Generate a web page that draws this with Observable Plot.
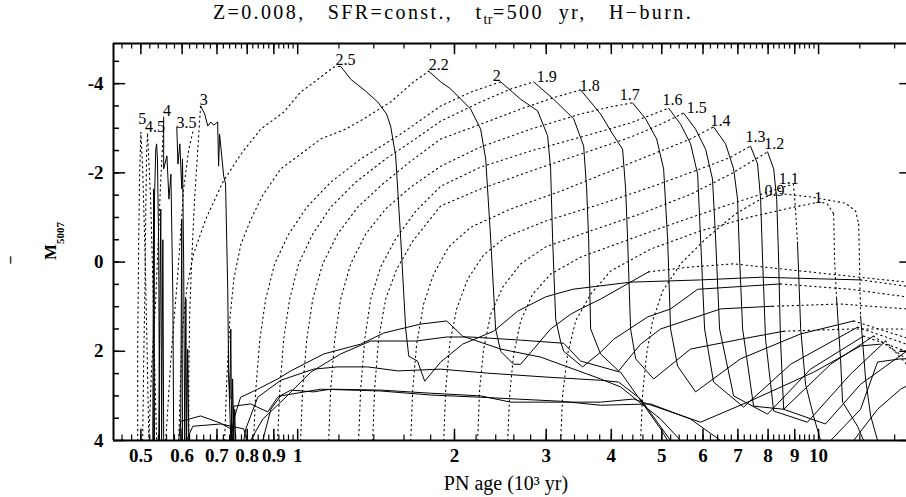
<!DOCTYPE html>
<html><head><meta charset="utf-8">
<script src="https://cdn.jsdelivr.net/npm/d3@7"></script>
<script src="https://cdn.jsdelivr.net/npm/@observablehq/plot@0.6"></script>
<style>
body{margin:0;background:#fff;}
#title{height:24px;width:906px;text-align:center;font-family:"Liberation Serif","DejaVu Serif",serif;font-size:20px;letter-spacing:2.4px;line-height:24px;white-space:pre;overflow:visible;color:#000;}
#title sub{font-size:14px;vertical-align:-5px;line-height:0;letter-spacing:0.5px;}
</style></head><body>
<div id="title">Z=0.008,   SFR=const.,   t<sub>tr</sub>=500  yr,   H−burn.</div>
<div id="chart"></div>
<script>
// ---------- data: [age (10^3 yr), M5007] ----------
const rise_5 = [[0.493,4],[0.493,1.95],[0.495,-0.29],[0.497,-1.86],[0.500,-2.91]];
const down_5 = [[0.500,-2.91],[0.504,-2.09],[0.509,-0.29],[0.513,1.50],[0.518,4]];
const spike_5 = [[0.527,4],[0.529,-1.64],[0.531,4]];
const rise_45 = [[0.504,4],[0.506,2.40],[0.509,0.61],[0.511,-1.19],[0.513,-2.53],[0.515,-2.87]];
const down_45 = [[0.515,-2.87],[0.522,-1.41],[0.527,0.38],[0.531,2.17],[0.536,4]];
const spike_45 = [[0.529,4],[0.531,-1.41],[0.534,-2.53],[0.536,-2.65],[0.538,-2.31],[0.541,-0.29],[0.543,4]];
const rise_4 = [[0.518,4],[0.524,2.40],[0.534,0.83],[0.541,-0.74],[0.546,-1.86],[0.551,-2.76],[0.553,-3.21]];
const drop_4 = [[0.553,-3.25],[0.553,-2.09],[0.561,-2.38],[0.566,-1.41],[0.571,-1.97],[0.576,0.83],[0.578,4]];
const spike_4 = [[0.541,4],[0.546,-1.19],[0.548,4],[0.551,-0.50],[0.553,4]];
const rise_35 = [[0.558,4],[0.571,2.17],[0.589,0.22],[0.604,-1.64],[0.618,-2.53],[0.631,-2.98]];
const drop_35 = [[0.586,-3.03],[0.589,-2.20],[0.594,-2.65],[0.599,-1.64],[0.601,-2.31],[0.604,-0.07],[0.607,4]];
const spike_35 = [[0.596,4],[0.599,-0.96],[0.601,4],[0.607,4],[0.610,0.83],[0.612,4],[0.615,1.95],[0.618,4]];
const rise_3 = [[0.618,4],[0.618,2.62],[0.620,1.28],[0.626,-0.07],[0.634,-1.41],[0.643,-2.53],[0.651,-3.50]];
const drop_3 = [[0.651,-3.50],[0.663,-3.32],[0.672,-3.05],[0.681,-3.14],[0.690,-3.07],[0.702,-3.14],[0.705,-2.15],[0.708,-2.87],[0.721,-1.93],[0.727,-1.75],[0.734,0.61],[0.737,2.47],[0.744,4]];
const spike_3 = [[0.737,2.47],[0.741,3.07],[0.744,1.50],[0.747,4],[0.750,2.62],[0.754,4],[0.757,3.30],[0.760,4]];

const rise_25 = [[0.591,4],[0.596,2.62],[0.601,1.50],[0.612,0.61],[0.631,-0.18],[0.666,-0.96],[0.718,-1.79],[0.778,-2.42],[0.849,-2.98],[0.940,-3.36],[1.013,-3.81],[1.083,-4.06],[1.172,-4.37],[1.209,-4.39]];
const drop_25 = [[1.209,-4.39],[1.264,-4.10],[1.351,-3.83],[1.424,-3.59],[1.481,-3.32],[1.508,-3.05],[1.542,-2.38],[1.577,-0.52],[1.612,1.50],[1.634,2.11],[1.699,2.22],[1.753,2.67],[1.882,2.24],[2.073,1.84],[2.378,1.55],[2.645,1.10],[2.992,0.78],[3.372,0.61],[4.356,0.45],[5.936,0.40],[7.74,0.34],[12.04,0.40]];
const tail_25 = [[12.04,0.40],[14.75,0.54]];

const rise_22 = [[0.724,4],[0.731,2.62],[0.741,1.28],[0.754,0.38],[0.778,-0.40],[0.813,-0.96],[0.857,-1.50],[0.928,-2.09],[1.013,-2.42],[1.107,-2.76],[1.236,-2.98],[1.339,-3.21],[1.508,-3.59],[1.670,-4.04],[1.784,-4.28]];
const drop_22 = [[1.784,-4.28],[1.882,-4.04],[1.967,-3.88],[2.148,-3.43],[2.245,-2.98],[2.296,-2.31],[2.347,-0.52],[2.399,1.50],[2.453,2.00],[2.598,2.29],[2.680,2.29],[3.059,1.50],[3.342,1.17],[3.493,1.05],[3.815,0.83],[4.717,0.22]];
const tail_22 = [[4.717,0.22],[5.679,0.11],[6.869,0.04],[9.24,0.20],[14.75,0.45]];

const rise_20 = [[0.823,4],[0.831,2.85],[0.846,1.73],[0.868,0.83],[0.903,0.04],[0.961,-0.63],[1.041,-1.23],[1.157,-1.79],[1.321,-2.31],[1.577,-2.87],[1.882,-3.50],[2.148,-3.81],[2.453,-4.04]];
const drop_20 = [[2.453,-4.04],[2.680,-3.65],[2.888,-3.39],[3.019,-2.83],[3.059,-2.09],[3.086,-0.52],[3.128,1.28],[3.198,1.79],[3.241,2.00],[3.524,2.35],[3.815,2.02],[4.042,1.73],[4.697,1.23],[5.199,1.05],[5.859,0.61],[8.45,0.49]];
const tail_20 = [[8.45,0.49],[11.52,0.61],[14.75,0.78]];

const rise_19 = [[0.915,4],[0.924,2.85],[0.940,1.73],[0.965,0.83],[1.004,0.04],[1.069,-0.63],[1.157,-1.23],[1.292,-1.79],[1.475,-2.31],[1.648,-2.69],[1.882,-3.16],[2.245,-3.59],[2.564,-3.88],[2.838,-4.04]];
const drop_19 = [[2.838,-4.04],[3.100,-3.65],[3.388,-3.21],[3.540,-2.60],[3.587,-1.64],[3.619,-0.52],[3.651,1.50],[3.815,2.06],[4.132,2.44],[4.553,1.84],[4.974,1.50],[6.484,1.05],[8.16,0.99]];
const tail_19 = [[8.16,0.99],[11.02,0.94],[14.75,1.05]];

const rise_18 = [[1.013,4],[1.022,2.85],[1.041,1.73],[1.069,0.83],[1.117,0.04],[1.193,-0.63],[1.304,-1.23],[1.456,-1.75],[1.648,-2.26],[1.882,-2.76],[2.245,-3.09],[2.680,-3.43],[3.128,-3.70],[3.493,-3.86]];
const drop_18 = [[3.493,-3.86],[3.815,-3.32],[4.024,-2.87],[4.205,-2.53],[4.262,-1.64],[4.299,-0.52],[4.356,1.50],[4.455,2.17],[4.824,2.62],[5.679,1.95],[7.08,1.73],[8.57,1.55]];
const tail_18 = [[8.57,1.55],[11.52,1.50],[14.75,1.50]];

const rise_17 = [[1.147,4],[1.157,2.85],[1.178,1.73],[1.209,0.83],[1.264,0.04],[1.351,-0.63],[1.475,-1.19],[1.648,-1.68],[1.882,-2.15],[2.245,-2.58],[2.801,-2.98],[3.493,-3.32],[3.988,-3.48],[4.395,-3.57]];
const drop_17 = [[4.395,-3.57],[4.656,-3.21],[4.888,-2.76],[5.041,-2.09],[5.131,-0.52],[5.199,1.50],[5.362,2.33],[5.806,2.91],[7.08,2.17],[9.24,1.61],[11.68,1.32]];
const tail_17 = [[11.68,1.32],[14.75,1.70]];

const rise_16 = [[1.309,4],[1.321,2.85],[1.345,1.73],[1.381,0.83],[1.443,0.11],[1.542,-0.52],[1.685,-1.14],[1.882,-1.70],[2.245,-2.13],[2.801,-2.49],[3.493,-2.80],[4.356,-3.12],[5.153,-3.45]];
const drop_16 = [[5.153,-3.45],[5.434,-3.09],[5.679,-2.65],[5.859,-1.97],[5.936,-0.52],[6.042,1.50],[6.287,2.69],[7.178,3.25],[8.84,2.29],[11.88,1.46]];
const tail_16 = [[11.88,1.46],[14.75,1.84]];

const rise_15 = [[1.393,4],[1.405,2.85],[1.430,1.73],[1.475,0.83],[1.549,0.16],[1.663,-0.47],[1.882,-1.26],[2.245,-1.64],[2.801,-2.04],[3.493,-2.42],[4.356,-2.80],[4.974,-3.09],[5.507,-3.34]];
const drop_15 = [[5.507,-3.34],[5.806,-2.98],[6.069,-2.53],[6.257,-1.86],[6.344,-0.52],[6.456,1.50],[6.869,3.00],[7.98,3.41],[9.65,2.40],[12.20,1.66]];
const tail_15 = [[12.20,1.66],[14.75,2.00]];

const rise_14 = [[1.648,4],[1.663,2.85],[1.692,1.84],[1.745,0.94],[1.824,0.27],[1.949,-0.34],[2.148,-0.78],[2.564,-1.19],[3.198,-1.59],[3.988,-2.04],[4.974,-2.49],[5.679,-2.76],[6.287,-3.03]];
const drop_14 = [[6.287,-3.03],[6.630,-2.65],[6.869,-2.09],[6.99,-1.41],[7.054,-0.07],[7.148,1.50],[7.503,3.23],[8.57,3.30],[10.55,2.29],[12.75,1.66]];
const tail_14 = [[12.75,1.66],[14.75,2.17]];

const rise_13 = [[1.907,4],[1.924,2.85],[1.958,1.84],[2.019,1.05],[2.120,0.38],[2.275,-0.16],[2.507,-0.56],[2.992,-0.92],[3.815,-1.30],[4.759,-1.68],[5.936,-2.09],[6.776,-2.35],[7.40,-2.60]];
const drop_13 = [[7.40,-2.60],[7.637,-2.20],[7.74,-1.41],[7.807,-0.07],[7.91,1.73],[8.20,3.34],[9.52,3.59],[11.52,2.51],[13.45,1.77]];
const tail_13 = [[13.45,1.77],[14.75,2.29]];

const rise_12 = [[2.216,4],[2.235,2.85],[2.275,1.95],[2.347,1.17],[2.475,0.56],[2.680,0.04],[2.992,-0.34],[3.651,-0.70],[4.553,-1.08],[5.679,-1.52],[6.776,-1.97],[7.98,-2.47]];
const drop_12 = [[7.98,-2.47],[8.20,-2.09],[8.31,-1.41],[8.38,-0.07],[8.45,1.73],[8.57,3.30],[10.31,3.63],[12.04,2.74],[14.75,2.00]];

const rise_11 = [[2.530,4],[2.553,2.96],[2.598,2.06],[2.680,1.32],[2.825,0.72],[3.059,0.27],[3.493,-0.11],[4.356,-0.52],[5.434,-0.92],[6.776,-1.30],[8.09,-1.59],[8.95,-1.75]];
const fall_11 = [[8.95,-1.75],[9.03,-1.19],[9.11,-0.45]];
const drop_11 = [[9.11,-0.45],[9.24,1.50],[9.44,2.74],[9.78,3.45],[10.09,4]];

const rise_10 = [[3.198,4],[3.227,2.96],[3.298,2.06],[3.417,1.32],[3.651,0.72],[3.988,0.20],[4.759,-0.29],[5.936,-0.70],[7.40,-1.01],[8.95,-1.23],[10.09,-1.35],[10.40,-1.30],[10.69,-1.08]];
const fall_10 = [[10.69,-1.08],[10.73,-0.07],[10.83,0.83]];
const drop_10 = [[10.83,0.83],[11.02,2.17],[11.12,3.14],[11.88,3.68],[12.20,4]];

const rise_09 = [[4.553,4],[4.594,2.96],[4.676,2.06],[4.801,1.32],[5.019,0.65],[5.434,0.04],[6.069,-0.52],[6.929,-1.08],[7.74,-1.41],[8.23,-1.55],[9.65,-1.46],[11.27,-1.32],[11.78,-1.14],[11.94,-0.85]];
const fall_09 = [[11.94,-0.85],[11.99,0.16],[12.04,1.21]];
const drop_09 = [[12.04,1.21],[12.31,2.62],[12.59,3.45],[12.98,4]];

// late branches of the massive tracks
const lowA = [[0.744,4],[0.754,3.52],[0.777,3.03],[0.838,2.85],[0.915,2.62],[0.970,2.44],[1.122,2.06],[1.321,1.84],[1.463,1.59],[1.722,1.39],[1.932,1.32],[2.073,1.66],[2.453,1.95],[2.927,2.13],[3.815,2.62],[4.169,2.80],[4.974,3.52],[5.434,4]];
const lowB = [[0.788,4],[0.795,3.74],[0.838,3.03],[0.928,2.65],[1.073,2.40],[1.193,2.35],[1.363,2.35],[1.556,2.44],[1.882,2.40],[2.317,2.49],[3.019,2.58],[3.815,2.65],[4.132,2.69],[4.553,3.07],[5.199,4]];
const lowC = [[0.750,4],[0.754,3.23],[0.812,3.18],[0.876,3.36],[0.915,3.03],[0.970,2.87],[1.073,2.91],[1.157,2.85],[1.443,2.87],[1.800,2.94],[2.245,3.00],[2.564,3.14],[3.815,3.14],[4.415,3.07],[5.936,3.59],[7.306,3.14],[9.78,2.47],[12.04,1.88],[13.15,1.84]];
const lowD = [[0.812,4],[0.857,3.52],[0.928,3.14],[1.059,2.47],[1.209,2.06],[1.381,1.77],[1.685,1.77],[1.932,1.68],[2.148,1.68],[2.680,1.75],[3.241,1.82],[3.493,2.22],[4.169,2.47],[4.974,3.74],[5.131,4]];
const lowE = [[0.857,4],[0.888,3.30],[0.928,3.00],[1.107,2.85],[1.443,2.89],[1.800,2.98],[2.245,3.03],[3.198,3.12],[3.815,3.21],[4.759,3.18],[5.679,3.52],[6.484,4]];
const lowF = [[0.591,4],[0.596,3.57],[0.651,3.45],[0.711,3.61],[0.744,3.74],[0.750,4]];
const lowG = [[0.612,4],[0.629,3.68],[0.711,3.63],[0.788,3.74],[0.798,4]];
const lateH = [[10.55,4],[12.04,3.30],[12.98,2.24],[14.37,2.17],[14.75,2.17]];
const lateI = [[11.68,4],[12.98,3.30],[14.37,2.85],[14.75,2.78]];

// mass labels
const labelText = ["5","4.5","4","3.5","3","2.5","2.2","2","1.9","1.8","1.7","1.6","1.5","1.4","1.3","1.2","1.1","0.9","1"];
const labelAge = [0.503,0.532,0.561,0.612,0.660,1.236,1.865,2.410,3.006,3.635,4.338,5.245,5.833,6.484,7.57,8.22,8.76,8.23,9.99];
const labelMag = [-3.22,-3.03,-3.38,-3.12,-3.63,-4.53,-4.42,-4.17,-4.15,-3.95,-3.74,-3.63,-3.45,-3.16,-2.80,-2.66,-1.86,-1.59,-1.43];

// axes
const xTickValues = [0.5,0.6,0.7,0.8,0.9,1,2,3,4,5,6,7,8,9,10];
const yTickValues = [-4,-2,0,2,4];
const xDomain = [0.443, 14.75];
const yDomain = [4, -4.9];

// ---------- build ----------
const dottedSegs = [rise_5, down_5, rise_45, down_45, rise_4, rise_35, rise_3, rise_25, tail_25, rise_22, tail_22,
  rise_20, tail_20, rise_19, tail_19, rise_18, tail_18, rise_17, tail_17, rise_16, tail_16, rise_15, tail_15,
  rise_14, tail_14, rise_13, tail_13, rise_12, rise_11, fall_11, rise_10, fall_10, rise_09, fall_09];
const solidSegs = [spike_5, spike_45, drop_4, spike_4, drop_35, spike_35, drop_3, spike_3, drop_25, drop_22, drop_20, drop_19,
  drop_18, drop_17, drop_16, drop_15, drop_14, drop_13, drop_12, drop_11, drop_10, drop_09,
  lowA, lowB, lowC, lowD, lowE, lowF, lowG, lateH, lateI];
const toRows = segs => segs.flatMap((s, i) => s.map(([age, mag]) => ({id: i, age, mag})));
const dottedRows = toRows(dottedSegs);
const solidRows = toRows(solidSegs);
const labels = labelText.map((t, i) => ({t, age: labelAge[i], mag: labelMag[i]}));

const xMinor = [...d3.range(0.44, 0.999, 0.02), ...d3.range(1.2, 9.99, 0.2), 12, 14].filter(v => v >= xDomain[0] && v <= xDomain[1]);
const yMinor = d3.range(-4.5, 4, 0.5);
const serif = "Liberation Serif, DejaVu Serif, serif";
const xL = xDomain[0], xR = xDomain[1];

const chart = Plot.plot({
  width: 906, height: 473,
  marginLeft: 113, marginRight: 0, marginTop: 19, marginBottom: 57,
  x: {type: "log", domain: xDomain, axis: null},
  y: {domain: yDomain, axis: null},
  style: {fontFamily: serif, background: "white", color: "black"},
  marks: [
    Plot.line(dottedRows, {x: "age", y: "mag", z: "id", stroke: "black", strokeWidth: 1.1, strokeDasharray: "1.3,3.6", clip: true}),
    Plot.line(solidRows, {x: "age", y: "mag", z: "id", stroke: "black", strokeWidth: 1, clip: true}),
    Plot.text(labels, {x: "age", y: "mag", text: "t", fontSize: 16, fill: "black", fontFamily: serif}),
    // frame
    Plot.ruleY([yDomain[1]], {stroke: "black", strokeWidth: 2}),
    Plot.ruleY([yDomain[0]], {stroke: "black", strokeWidth: 2}),
    Plot.ruleX([xL], {stroke: "black", strokeWidth: 2}),
    // ticks
    Plot.ruleX(xMinor, {y1: 4, y2: 4 - 0.125, stroke: "black", strokeWidth: 1.2}),
    Plot.ruleX(xTickValues, {y1: 4, y2: 4 - 0.25, stroke: "black", strokeWidth: 1.5}),
    Plot.ruleX(xMinor, {y1: -4.9, y2: -4.9 + 0.125, stroke: "black", strokeWidth: 1.2}),
    Plot.ruleX(xTickValues, {y1: -4.9, y2: -4.9 + 0.25, stroke: "black", strokeWidth: 1.5}),
    Plot.ruleY(yMinor, {x1: xL, x2: xL * 1.027, stroke: "black", strokeWidth: 1.5}),
    Plot.ruleY(yTickValues, {x1: xL, x2: xL * 1.055, stroke: "black", strokeWidth: 1.5}),
    Plot.ruleY(yTickValues, {x1: xR / 1.03, x2: xR, stroke: "black", strokeWidth: 1.5}),
    // tick labels
    Plot.text(xTickValues, {x: d => d, frameAnchor: "bottom", dy: 21, text: d => String(d), fontSize: 19, fontWeight: "bold", fill: "black", fontFamily: serif}),
    Plot.text(yTickValues, {y: d => d, frameAnchor: "left", dx: -10, textAnchor: "end", text: d => String(d), fontSize: 19, fontWeight: "bold", fill: "black", fontFamily: serif})
  ]
});

const svg = d3.select(chart);
svg.append("text").attr("x", 506).attr("y", 466).attr("text-anchor", "middle")
  .attr("font-family", serif).attr("font-size", 20).attr("fill", "black").text("PN age (10³ yr)");
const ml = svg.append("text").attr("transform", "translate(56,217) rotate(-90)").attr("text-anchor", "middle")
  .attr("font-family", serif).attr("font-size", 17).attr("font-weight", "bold").attr("fill", "black");
ml.append("tspan").text("M");
ml.append("tspan").attr("font-size", 11).attr("dy", 8).text("5007");
svg.append("text").attr("transform", "translate(16,236) rotate(-90)").attr("text-anchor", "middle")
  .attr("font-family", serif).attr("font-size", 16).attr("font-weight", "bold").attr("fill", "black").text("−");

document.getElementById("chart").appendChild(chart);
</script></body></html>
